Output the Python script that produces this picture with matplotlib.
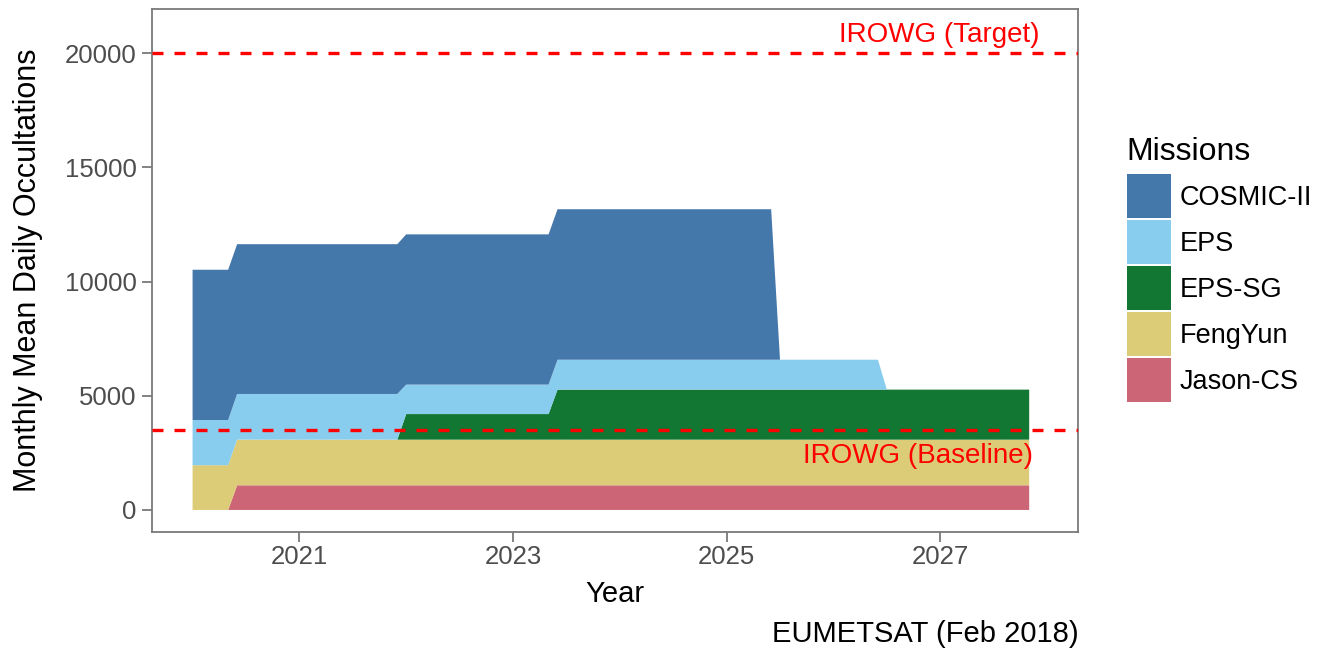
import matplotlib
matplotlib.use("Agg")
import matplotlib.pyplot as plt
from matplotlib.patches import Patch

plt.rcParams["font.family"] = ["Liberation Sans", "DejaVu Sans"]

# key dates (decimal years) where the mission counts change
years = [2020.0, 2020.333, 2020.417, 2021.917, 2022.0, 2023.333, 2023.417,
         2025.417, 2025.5, 2026.417, 2026.5, 2027.833]

# monthly mean daily occultations per mission at those dates
jason_cs = [0, 0, 1080, 1080, 1080, 1080, 1080, 1080, 1080, 1080, 1080, 1080]
fengyun = [1960, 1960, 2000, 2000, 2000, 2000, 2000, 2000, 2000, 2000, 2000, 2000]
eps_sg = [0, 0, 0, 0, 1120, 1120, 2190, 2190, 2190, 2190, 2190, 2190]
eps = [1980, 1980, 2000, 2000, 1290, 1290, 1310, 1310, 1310, 1310, 0, 0]
cosmic = [6580, 6580, 6560, 6560, 6580, 6580, 6590, 6590, 0, 0, 0, 0]

missions = ["COSMIC-II", "EPS", "EPS-SG", "FengYun", "Jason-CS"]
colors = {"COSMIC-II": "#4477AA", "EPS": "#88CCEE", "EPS-SG": "#117733",
          "FengYun": "#DDCC77", "Jason-CS": "#CC6677"}

target = 20000
baseline = 3500

fig = plt.figure(figsize=(13.22, 6.49), dpi=100)
ax = fig.add_axes([152 / 1322, 1 - 532 / 649, 926 / 1322, 523 / 649])

ax.stackplot(years, jason_cs, fengyun, eps_sg, eps, cosmic,
             colors=[colors["Jason-CS"], colors["FengYun"], colors["EPS-SG"],
                     colors["EPS"], colors["COSMIC-II"]],
             linewidth=0)

for yv in (target, baseline):
    ax.axhline(yv, color="#FF0000", lw=2.4, linestyle=(0, (3.3, 3.3)), zorder=5)

ax.text(2027.93, target + 500, "IROWG (Target)", color="#FF0000",
        fontsize=20, ha="right", va="baseline")
ax.text(2027.87, 2050, "IROWG (Baseline)", color="#FF0000",
        fontsize=20, ha="right", va="baseline")

ax.set_xlim(2019.62, 2028.29)
ax.set_ylim(-965, 21940)
ax.set_xticks([2021, 2023, 2025, 2027])
ax.set_yticks([0, 5000, 10000, 15000, 20000])

frame = "#7a7a7a"
for s in ax.spines.values():
    s.set_color(frame)
    s.set_linewidth(1.3)
ax.tick_params(length=7.2, width=1.3, color=frame, labelsize=18.5,
               labelcolor="#4D4D4D", pad=2)
ax.tick_params(axis="y", pad=4)

ax.set_xlabel("Year", fontsize=21)
ax.set_ylabel("Monthly Mean Daily Occultations", fontsize=22)
ax.xaxis.set_label_coords(0.5, -0.092)
ax.yaxis.set_label_coords(-0.118, 0.5)

fig.text(1079 / 1322, 1 - 641.7 / 649, "EUMETSAT (Feb 2018)", fontsize=21,
         ha="right", va="baseline")

# legend: title placed separately so the gap above the keys matches
fig.text(1126.7 / 1322, 1 - 160 / 649, "Missions", fontsize=23,
         ha="left", va="baseline")
handles = [Patch(facecolor=colors[m], edgecolor="none") for m in missions]
leg = fig.legend(handles, missions, loc="upper left",
                 bbox_to_anchor=(1126.7 / 1322, 1 - 174.3 / 649),
                 frameon=False, fontsize=19.5, borderpad=0,
                 borderaxespad=0, handlelength=1.626, handleheight=2.124,
                 handletextpad=0.32, labelspacing=0.07)

fig.savefig("out.png", dpi=100)
